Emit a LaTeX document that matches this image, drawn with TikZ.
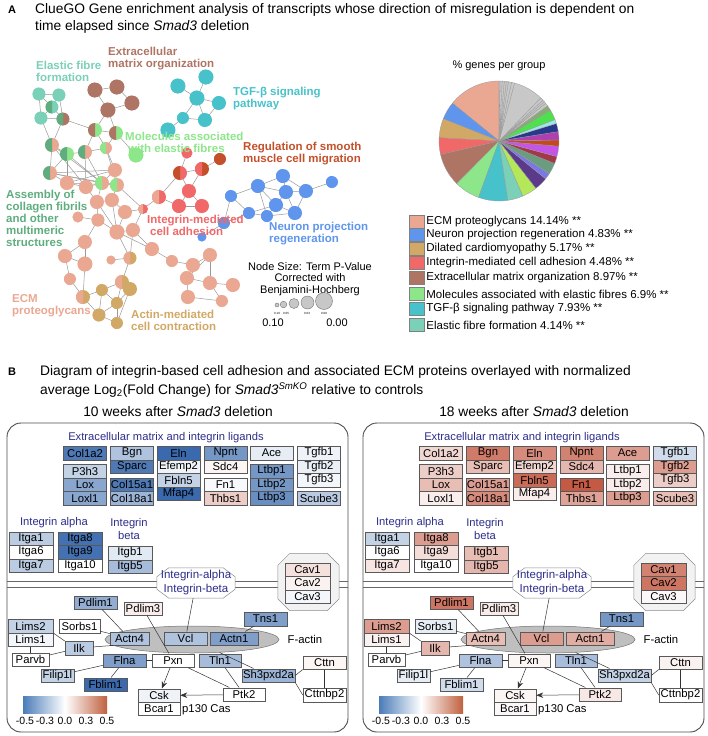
\documentclass[tikz,border=0pt]{standalone}
\usepackage{fontspec}
\setmainfont{Liberation Sans}
\usetikzlibrary{positioning, shapes.geometric, arrows.meta}

% fold-change colours and group colours
\definecolor{lo}{HTML}{3A6AAD}
\definecolor{hi}{HTML}{C45A44}
\definecolor{cbl}{HTML}{4A7CB8}
\definecolor{cbr}{HTML}{C0603F}
\definecolor{navy}{HTML}{2D2D8A}
\definecolor{ecmp}{HTML}{EAA892}
\definecolor{neur}{HTML}{5F95EC}
\definecolor{dcm}{HTML}{D2A866}
\definecolor{intg}{HTML}{F06868}
\definecolor{ecmo}{HTML}{AE7565}
\definecolor{mol}{HTML}{8EE68A}
\definecolor{tgf}{HTML}{48C2CA}
\definecolor{elas}{HTML}{7BD0B8}
\definecolor{smc}{HTML}{C4502A}
\definecolor{coll}{HTML}{5FAD7E}
\definecolor{pyg}{HTML}{B4E85A}
\definecolor{pdp}{HTML}{5B3A8C}
\definecolor{pbv}{HTML}{7A78E6}
\definecolor{pgg}{HTML}{6B9C80}
\definecolor{pdr}{HTML}{A03A48}
\definecolor{pmg}{HTML}{C455E6}
\definecolor{por}{HTML}{C24A1E}
\definecolor{ppk}{HTML}{B040B0}
\definecolor{pnv}{HTML}{28388C}
\definecolor{pcy}{HTML}{A0E6E6}
\definecolor{pgr}{HTML}{4EE04E}
\definecolor{pol}{HTML}{8AAA78}
\definecolor{pgy}{HTML}{C8C8C8}

\tikzset{
	>={Stealth[length=7pt, width=5.5pt]},
	gene/.style={draw=black!65, line width=0.5pt, minimum height=13.5, minimum width=43, inner sep=0pt, font=\fontsize{11.3}{12}\selectfont},
	link/.style={draw=black!80, line width=0.5pt},
	netlink/.style={draw=black!40, line width=0.5pt},
	grp/.style={anchor=west, align=left, inner sep=0pt, font=\fontsize{11.5}{12}\selectfont\bfseries},
	head/.style={anchor=west, inner sep=0pt, font=\fontsize{13.8}{16}\selectfont},
	sub/.style={text=navy, inner sep=0pt, font=\fontsize{11.2}{12.5}\selectfont},
	legbox/.style={draw=black!50, line width=0.4pt, minimum width=15, minimum height=13, inner sep=0pt},
	legtext/.style={anchor=west, inner sep=0pt, font=\fontsize{11.5}{13}\selectfont},
	octo/.style={draw=black!45, line width=0.5pt},
}

\newcommand{\chamfer}[4]{% node, x cut, y cut, fill
	\draw[octo, fill=#4] ([xshift=#2]#1.north west) -- ([xshift=-#2]#1.north east) -- ([yshift=-#3]#1.north east) -- ([yshift=#3]#1.south east) -- ([xshift=-#2]#1.south east) -- ([xshift=#2]#1.south west) -- ([yshift=#3]#1.south west) -- ([yshift=-#3]#1.north west) -- cycle;}

\def\netnodes{e1/39/94/6.5/elas/elas, e2/59/95/6.5/elas/elas, e3/52/107/6.5/elas/coll, e4/41/118/6.5/elas/elas, e5/63/119/6.5/ecmo/coll,
	b1/95/90/7.5/ecmo/ecmo, b2/117/87/7.5/ecmo/ecmo, b3/132/103/7.5/ecmo/ecmo, b4/108/110/7.5/ecmo/ecmo, b5/95/130/7/mol/ecmo, b6/116/133/7/mol/ecmo,
	t1/178/86/7.5/tgf/tgf, t2/206/77/7.5/tgf/tgf, t3/197/98/7.5/tgf/tgf, t4/219/103/7/tgf/tgf, t5/183/118/6/tgf/tgf, t6/205/120/7/tgf/tgf, t7/168/130/7.5/tgf/tgf,
	m1/136/155/7.5/mol/mol,
	s1/52/145/7/ecmp/coll, s2/67/154/7/mol/coll, s3/85/152/7/ecmp/coll, s4/106/148/6/ecmp/mol, s6/50/173/7/ecmp/coll, s7/67/183/7/ecmp/ecmp,
	s8/86/187/7/ecmp/ecmp, s9/102/183/7/ecmp/mol, s10/115/170/7/ecmp/ecmp, s11/117/185/7/ecmp/mol, s12/97/202/7/ecmp/ecmp, s13/112/200/7/ecmp/ecmp,
	s14/125/212/7/ecmp/ecmp, s15/78/217/5.5/ecmp/ecmp, s16/98/220/6.5/ecmp/ecmp, s17/117/232/7.5/ecmp/ecmp, s18/133/230/7/ecmp/ecmp,
	s19/85/242/7/ecmp/ecmp, s20/152/249/7/ecmp/ecmp, s21/65/256/7/ecmp/ecmp, s22/85/264/7.5/ecmp/ecmp, s23/111/260/4.5/ecmp/ecmp,
	s24/130/258/6.5/dcm/ecmp, s25/70/279/6/ecmp/ecmp, s26/83/297/7/dcm/ecmp, s27/172/261/6/ecmp/ecmp, s28/193/265/7/ecmp/ecmp,
	s29/210/255/7/ecmp/ecmp, s30/187/278/7/ecmp/ecmp, s31/210/283/7/ecmp/ecmp, s32/233/285/7/ecmp/ecmp, s33/188/297/7/ecmp/ecmp,
	s34/222/301/6/ecmp/ecmp, s35/143/209/5/intg/ecmp,
	g1/102/290/6/dcm/dcm, g2/122/282/7/dcm/ecmp, g3/130/289/7/dcm/dcm, g4/99/315/6.5/dcm/dcm, g5/117/303/6/dcm/dcm, g6/117/323/6/dcm/dcm,
	i1/187/153/5.5/intg/intg, i2/220/159/6/smc/smc, i3/202/169/7/smc/intg, i4/180/173/7/intg/smc, i5/189/191/7/intg/intg,
	i6/159/197/7/intg/ecmp, i7/179/206/7/intg/intg, i8/202/206/7/intg/intg,
	n1/283/176/7/neur/neur, n2/258/186/7/neur/neur, n3/306/191/7/neur/neur, n4/332/182/6/neur/neur, n5/231/196/6/neur/neur,
	n6/286/192/7/neur/neur, n7/276/205/7/neur/neur, n8/249/213/6/neur/neur, n9/267/216/6/neur/neur, n10/295/213/7/neur/neur,
	n11/224/223/6/neur/neur, n12/202/237/4.5/neur/neur}

\begin{document}
\begin{tikzpicture}[x=1pt, y=-1pt]
	\useasboundingbox (0,0) rectangle (708,736);

	% ---------- panel A ----------
	\node[anchor=west, inner sep=0pt, font=\fontsize{11}{13}\selectfont\bfseries] (labA) at (8,10) {A};
	\node[head] (titleA1) at (35,10) {ClueGO Gene enrichment analysis of transcripts whose direction of misregulation is dependent on};
	\node[head] (titleA2) at (35,27) {time elapsed since \textit{Smad3} deletion};

	% network
	\foreach \n/\x/\y/\rad/\ca/\cb in \netnodes {\coordinate (\n) at (\x,\y);}
	\foreach \a/\b in {e1/e2, e1/e4, e1/e3, e2/e3, e3/e4, e3/e5, e2/e5, e4/e5, e5/b5, e5/s1, e4/s1,
		b1/b2, b2/b3, b1/b4, b3/b4, b4/b5, b4/b6, b5/b6, b6/m1, b5/s3, b6/s4, b5/s4,
		t1/t3, t2/t3, t3/t4, t3/t5, t3/t6, t4/t6, t5/t6, t5/t7,
		s1/s2, s1/s6, s2/s3, s3/s4, s2/s6, s2/s7, s3/s8, s4/s10, s6/s7, s7/s8, s8/s9, s9/s10, s9/s11, s10/s11,
		s1/s8, s6/s9, s2/s9, s7/s11, s6/s11, s6/s10, s1/s9, s3/s9, s7/s10, s4/s11, s8/s12, s9/s12, s11/s13,
		s12/s13, s13/s14, s12/s16, s13/s17, s14/s17, s12/s17, s15/s16, s16/s19, s17/s18, s17/s20, s18/s20,
		s16/s17, s14/s35, s18/s35, s11/s35, s19/s21, s19/s22, s21/s22, s21/s25, s25/s26, s22/s26, s17/s24,
		s18/s24, s20/s27, s27/s28, s28/s29, s28/s30, s29/s31, s30/s31, s31/s32, s30/s33, s31/s34, s33/s34,
		s29/s30, s23/s24, s24/g2, g2/g3, g1/g2, g1/g5, g2/g5, g3/g5, g5/g4, g5/g6, g4/g6, g1/g4, g3/g6, s26/g1, s26/g4,
		i1/i4, i3/i2, i3/i4, i4/i5, i4/i6, i6/i7, i5/i7, i5/i8, i7/i8, i6/s35, i3/i5,
		n1/n2, n1/n3, n1/n6, n3/n4, n2/n5, n2/n6, n2/n7, n6/n7, n6/n3, n6/n10, n7/n9, n7/n8, n8/n9, n9/n10,
		n5/n8, n5/n11, n8/n11, n10/n3, n7/n10, n11/n12, n2/n9}
		{\draw[netlink] (\a) -- (\b);}
	\foreach \n/\x/\y/\rad/\ca/\cb in \netnodes {
		\fill[\ca] (\n) circle[radius=\rad pt];
		\fill[\cb] (\n) -- ++(90:\rad pt) arc[start angle=90, end angle=270, radius=\rad pt] -- cycle;
	}

	\node[grp, text=elas] (lbElastic) at (36,71) {Elastic fibre\\formation};
	\node[grp, text=ecmo] (lbMatrix) at (108,59) {Extracellular\\matrix organization};
	\node[grp, text=tgf] (lbTgf) at (233,99) {TGF-β signaling\\pathway};
	\node[grp, text=mol] (lbMol) at (125,142) {Molecules associated\\\hspace{3pt}with elastic fibres};
	\node[grp, text=smc] (lbSmc) at (243,154) {Regulation of smooth\\muscle cell migration};
	\node[grp, text=coll] (lbColl) at (6,218) {Assembly of\\collagen fibrils\\and other\\multimeric\\structures};
	\node[grp, text=intg] (lbIntg) at (147,225) {Integrin-mediated\\\hspace{3pt}cell adhesion};
	\node[grp, text=neur] (lbNeur) at (269,234) {Neuron projection\\regeneration};
	\node[grp, text=ecmp] (lbEcm) at (12,306) {ECM\\proteoglycans};
	\node[grp, text=dcm] (lbActin) at (131,320) {Actin-mediated\\cell contraction};

	% node size key
	\node[align=center, inner sep=0pt, font=\fontsize{11}{11.3}\selectfont] (nsize) at (310,279) {Node Size: Term P-Value\\Corrected with\\Benjamini-Hochberg};
	\foreach \x/\y/\rad in {277/305/2, 283.5/304.5/3.3, 294/303.5/5, 307.5/302.5/6.5, 324/301/8.5}
		\filldraw[fill=black!22, draw=black!55, line width=0.4pt] (\x,\y) circle[radius=\rad pt];
	\foreach \x/\txt [count=\i] in {277/0.10, 286/0.05, 307/0.03, 324/0.00}
		\node[inner sep=0pt, font=\fontsize{3}{3}\selectfont] (tiny\i) at (\x,313) {\txt};
	\node[inner sep=0pt, font=\fontsize{11}{13}\selectfont] (pmax) at (273,323) {0.10};
	\node[inner sep=0pt, font=\fontsize{11}{13}\selectfont] (pmin) at (337,323) {0.00};

	% pie chart
	\node[inner sep=0pt, font=\fontsize{11}{13}\selectfont] (pietitle) at (499,66) {\% genes per group};
	\begin{scope}[shift={(499,141)}]
		\foreach \c/\a/\b in {ecmp/90/140.9, neur/140.9/158.3, dcm/158.3/176.9, intg/176.9/193, ecmo/193/225.3,
			mol/225.3/250.1, tgf/250.1/278.6, elas/278.6/293.5, pyg/293.5/308, pdp/308/321, pbv/321/327,
			pgg/327/338, pdr/338/345, pmg/345/355, por/355/361, ppk/361/369, pnv/369/377, pcy/377/381,
			pgr/381/391, pol/391/396, pgy/396/399, pgy/399/401, pgy/401/403, pgy/403/406, pgy/406/435,
			pgy/435/438, pgy/438/441, pgy/441/443, pgy/443/445, pgy/445/447, pgy/447/449, pgy/449/450}
			\filldraw[fill=\c, draw=black!40, line width=0.3pt] (0,0) -- (\a:60pt) arc[start angle=\a, end angle=\b, radius=60pt] -- cycle;
	\end{scope}
	\foreach \c/\txt/\y [count=\i] in {ecmp/ECM proteoglycans 14.14\% **/222, neur/Neuron projection regeneration 4.83\% **/235,
		dcm/Dilated cardiomyopathy 5.17\% **/249, intg/Integrin-mediated cell adhesion 4.48\% **/263,
		ecmo/Extracellular matrix organization 8.97\% **/278, mol/Molecules associated with elastic fibres 6.9\% **/294,
		tgf/TGF-β signaling pathway 7.93\% **/309, elas/Elastic fibre formation 4.14\% **/325} {
		\node[legbox, fill=\c] (key\i) at (416.5,\y) {};
		\node[legtext, right=2pt of key\i] (item\i) {\txt};
	}

	% ---------- panel B ----------
	\node[anchor=west, inner sep=0pt, font=\fontsize{11}{13}\selectfont\bfseries] (labB) at (8,372) {B};
	\node[head] (titleB1) at (40,372) {Diagram of integrin-based cell adhesion and associated ECM proteins overlayed with normalized};
	\node[head] (titleB2) at (40,390) {average Log\textsubscript{2}(Fold Change) for \textit{Smad3\textsuperscript{SmKO}} relative to controls};

	\foreach \p/\dx/\wk in {L/0/10, R/356/18} {
		\begin{scope}[xshift=\dx]
			\node[head, anchor=center] (\p-title) at (178,412) {\wk{} weeks after \textit{Smad3} deletion};
			\draw[black!70, line width=0.9pt, rounded corners=14pt] (7,423) rectangle (348,732);
			\node[sub] (\p-ligands) at (166,438) {Extracellular matrix and integrin ligands};
			\node[sub] (\p-alpha) at (54,523) {Integrin alpha};
			\node[sub, align=center] (\p-beta) at (129,529) {Integrin\\beta};
			\draw[black!60, line width=0.7pt] (7,581) -- (348,581) (7,587) -- (348,587);
			\node[minimum width=78, minimum height=30, inner sep=0pt] (\p-itg) at (196,583) {};
			\chamfer{\p-itg}{12pt}{9pt}{white}
			\node[sub, align=center, font=\fontsize{11.5}{14}\selectfont] (\p-itgtext) at (\p-itg) {Integrin-alpha\\Integrin-beta};
			\node[minimum width=61, minimum height=57, inner sep=0pt] (\p-cav) at (308.5,582) {};
			\chamfer{\p-cav}{12pt}{12pt}{black!5}
			\node[ellipse, draw=black!55, fill=black!25, line width=0.5pt, minimum width=174, minimum height=27] (\p-actin) at (192,639.5) {};
			\node[inner sep=0pt, font=\fontsize{11.3}{13}\selectfont] (\p-factin) at (305,639) {F-actin};
			\node[anchor=west, inner sep=0pt, font=\fontsize{11.3}{13}\selectfont] (\p-cas) at (182,710) {p130 Cas};
			\shade[left color=cbl, right color=cbr, middle color=white] (23,696) rectangle (107,713);
			\foreach \x/\txt [count=\i] in {25/-0.5, 45/-0.3, 65/0.0, 86/0.3, 107/0.5}
				\node[inner sep=0pt, font=\fontsize{10.5}{12}\selectfont] (\p-tick\i) at (\x,721) {\txt};
		\end{scope}
	}

	% gene boxes: name / x / y / width / 10 weeks / 18 weeks
	\foreach \g/\x/\y/\bw/\early/\late in {
		Col1a2/85/453/43/lo!90/hi!24, P3h3/85/471/43/lo!30/hi!30, Lox/85/484.5/43/lo!60/hi!40, Loxl1/85/498/43/lo!60/hi!10,
		Bgn/132/453/43/lo!40/hi!80, Sparc/132/466.5/43/lo!90/hi!40, Col15a1/132/484.5/43/lo!90/hi!60, Col18a1/132/498/43/lo!50/hi!70,
		Eln/178.5/453/43/lo!100/hi!70, Efemp2/178.5/466.5/43/lo!8/hi!24, Fbln5/178.5/480/43/lo!30/hi!90, Mfap4/178.5/493.5/43/lo!100/hi!10,
		Npnt/225.5/453/43/lo!70/hi!76, Sdc4/225.5/466.5/43/hi!6/hi!44, Fn1/225.5/484.5/43/lo!4/hi!100, Thbs1/225.5/498/43/hi!30/hi!56,
		Ace/271.5/453/43/lo!12/hi!60, Ltbp1/271.5/471/43/lo!70/hi!10, Ltbp2/271.5/484.5/43/lo!70/hi!12, Ltbp3/271.5/498/43/lo!76/hi!60,
		Tgfb1/319/453/43/lo!8/lo!24, Tgfb2/319/466.5/43/lo!10/hi!60, Tgfb3/319/480/43/lo!6/hi!30, Scube3/319/498/43/lo!36/hi!40,
		Itga1/31/538.5/44/lo!35/lo!30, Itga6/31/552/44/lo!0/lo!0, Itga7/31/565.5/44/lo!35/hi!16,
		Itga8/80/538.5/44/lo!95/hi!60, Itga9/80/552/44/lo!95/hi!20, Itga10/80/565.5/44/lo!0/lo!0,
		Itgb1/130/553/44/lo!15/hi!40, Itgb5/130/566.5/44/lo!45/hi!44,
		Cav1/307.5/569.5/45/hi!18/hi!76, Cav2/307.5/583/45/hi!8/hi!84, Cav3/307.5/596.5/45/lo!6/hi!4,
		Pdlim1/95.5/602.5/43/lo!55/hi!84, Pdlim3/143/608.5/38/hi!10/hi!12, Tns1/265.5/619/43/lo!65/lo!70,
		Lims2/30.5/626/45/lo!30/hi!60, Lims1/30.5/639.5/45/lo!6/hi!8, Sorbs1/79.5/626/41/lo!0/lo!12,
		Actn4/129.5/638.5/39/lo!40/hi!40, Vcl/185.5/638.5/43/lo!40/hi!60, Actn1/234/638.5/48/lo!65/hi!50,
		Ilk/79/648/28/lo!35/hi!44, Parvb/30.5/659.5/37/lo!0/lo!0,
		Flna/124.5/660.5/43/lo!65/lo!40, Pxn/173/660.5/42/lo!0/hi!6, Tln1/220/660.5/42/lo!45/lo!44,
		Filip1l/57.5/675.5/33/lo!30/lo!12, Fblim1/105.5/684.5/43/lo!100/lo!24, Sh3pxd2a/268.5/675.5/53/lo!50/lo!30,
		Cttn/324.5/662.5/43/hi!6/hi!8, Cttnbp2/324.5/695/43/lo!0/lo!0,
		Csk/159/695.5/42/lo!8/hi!6, Bcar1/159/708.5/42/lo!0/hi!4, Ptk2/244/694.5/42/lo!0/hi!14} {
		\node[gene, minimum width=\bw, fill=\early!white] (L-\g) at (\x,\y) {\g};
		\node[gene, minimum width=\bw, fill=\late!white] (R-\g) at (\x+356,\y) {\g};
	}

	% connectors
	\foreach \p in {L,R} {
		\draw[link] (\p-Pdlim1) -- (\p-Actn4);
		\draw[link] (\p-Pdlim3) -- (\p-Pxn);
		\draw[link] (\p-itg) -- (\p-Vcl);
		\draw[link] (\p-Tns1) -- (\p-Actn1);
		\draw[link] (\p-Lims2.south east) -- (\p-Ilk.north west);
		\draw[link] (\p-Sorbs1) -- (\p-Actn4);
		\draw[link] (\p-Ilk) -- (\p-actin);
		\draw[link] (\p-Parvb) -- (\p-Ilk);
		\draw[link] (\p-Lims1) -- (\p-Parvb);
		\draw[link] (\p-Flna) -- (\p-Filip1l);
		\draw[link] (\p-Flna) -- (\p-Fblim1);
		\draw[link] (\p-Flna) -- (\p-Pxn);
		\draw[link, ->] (\p-Pxn) -- (\p-Csk);
		\draw[link] (\p-Pxn) -- (\p-Ptk2);
		\draw[link] (\p-Tln1) -- (\p-Ptk2);
		\draw[link, ->] (\p-Ptk2) -- (\p-Csk);
		\draw[link] (\p-actin) -- (\p-Sh3pxd2a);
		\draw[link] (\p-Sh3pxd2a.east) -- (\p-Cttn.south west);
		\draw[link] (\p-Sh3pxd2a.south east) -- (\p-Cttnbp2.west);
		\draw[link] (\p-Cttn) -- (\p-Cttnbp2);
	}
\end{tikzpicture}
\end{document}
